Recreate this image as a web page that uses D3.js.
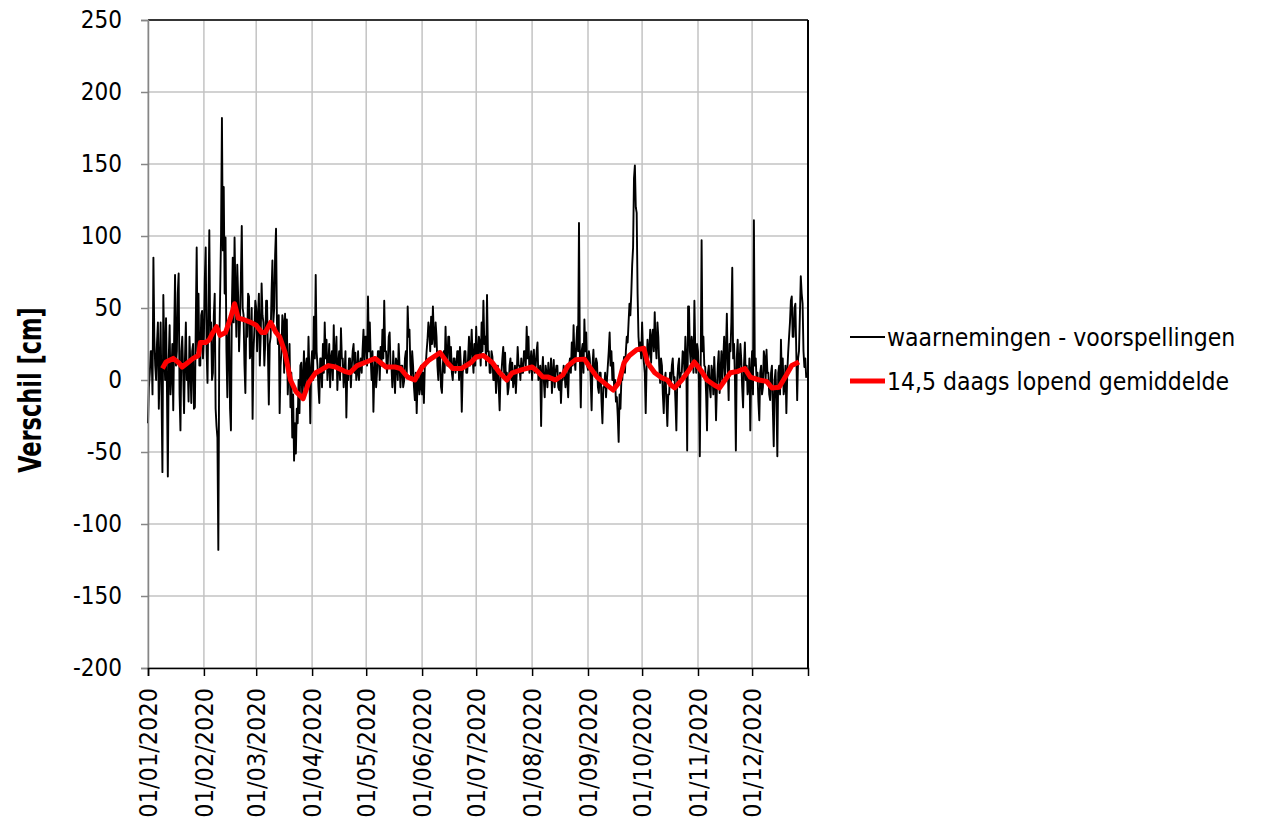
<!DOCTYPE html>
<html>
<head>
<meta charset="utf-8">
<script src="https://cdn.jsdelivr.net/npm/d3@7"></script>
<style>
    body { margin: 0; background: #ffffff; }
    svg { font-family: "DejaVu Sans Condensed", "DejaVu Sans", sans-serif; }
</style>
</head>
<body>
<svg id="chart"></svg>
<script>
// waarnemingen - voorspellingen, two values per day (cm), per month
const verschilJan = [-30, -5, 5, 20, 20, -10, 85, 30, 10, 0, 26, 40, -20, 10, 40, -10, -64, 59, 20, 0, 43, -5, -67, 15, 38, -10, 5, 25, -21, 30, 73, 10, 20, 60, 74, -10, -35, 20, 30, 5, -23, 15, 40, 0, 12, -15, 30, 10, -16, 20, 25, -20, -19, 40, 92, 20, 60, 10, 10, 45, 48, 15];
const verschilFeb = [30, 70, 92, 20, -2, 50, 104, 30, 40, 0, 5, 45, 60, -20, -32, -40, -118, 20, 60, 100, 182, 90, 134, 60, 99, 20, -12, 30, 40, -20, -35, 50, 85, 40, 99, 60, 30, 80, 58, 20, 40, 70, 107, 50, 45, 10, -9, 40, 30, 60, 58, 15, 20, 50, -27, 20, 35, 55];
const verschilMar = [50, 20, 44, 60, 10, 30, 67, 45, 40, 10, 25, 55, 55, 20, -17, 25, 30, 60, 83, 40, 50, 87, 105, 40, 25, 45, -23, 10, 20, 45, 40, 5, 46, 20, 42, -10, 5, 25, -19, 5, -40, -10, -56, -30, -51, -20, -30, 0, -23, 10, 12, -10, 0, 20, -12, 10, 15, -5, 30, 5, -30, 10];
const verschilApr = [20, 0, 44, 15, 73, 20, 10, -5, -16, 15, 15, -5, 25, 5, 40, 15, 28, 0, 10, 25, -5, 15, 20, 0, 38, 10, 15, 30, -7, 10, 20, 0, 36, 15, 15, -5, 5, 20, -26, 5, 0, 15, 15, -5, 9, 20, 25, 5, 19, 0, 5, 20, 0, 10, 15, 5, 21, 35, 12, 30];
const verschilMei = [30, 10, 58, 20, 40, 15, 0, 20, -22, 5, 15, -5, 5, 20, 20, 0, 23, 10, 35, 15, 55, 20, 20, 5, 12, 30, 33, 10, 10, -5, 20, 5, -9, 15, 12, 0, 25, 10, -5, 10, 10, -5, -1, 15, 20, 5, 51, 30, 35, 10, 0, 20, 10, -5, -14, 5, -23, 0, 5, -10, -5, 10];
const verschilJun = [-10, 5, -16, 10, 10, 20, 28, 40, 35, 20, 44, 25, 51, 30, 23, 40, 30, 10, 0, 20, 15, -5, -9, 10, 20, 5, 37, 15, 10, 30, 30, 10, 23, 5, 0, 15, 15, 5, 9, 20, 20, 0, 23, 10, -22, 5, 10, 20, 20, 5, 5, 15, 30, 10, 20, 35, 16, 5, 25, 10];
const verschilJul = [37, 15, 15, 30, 26, 10, 40, 20, 55, 25, 30, 10, 59, 20, 20, 5, 5, 20, 16, 0, 0, 10, -9, 5, 10, -5, -21, 5, 5, 15, 23, 5, 19, 0, 5, -10, -5, 10, 15, 0, 12, -5, 0, 10, -9, 5, 23, 10, 10, 0, 15, 5, 5, 20, 20, 10, 37, 15, 30, 5, 10, 20];
const verschilAug = [0, 15, 21, 5, 10, 20, 26, 0, 5, 10, -32, 5, 16, 0, -12, 10, 5, -5, 12, 0, 0, 15, -9, 5, 14, -5, 5, 10, 10, -5, -7, 5, -16, 0, 0, 10, 5, -5, 10, 0, -12, 10, 15, 5, 26, 10, 38, 15, 7, 25, 37, 20, 109, 15, -19, 20, 25, 5, 42, 20, 33, 10];
const verschilSep = [7, 20, 15, 0, -21, 10, 21, 5, 5, 15, 12, -5, -9, 5, 5, -15, -30, -5, -5, 5, -12, 0, 10, 20, 33, 10, 20, 0, 12, -5, 0, -15, -12, -25, -43, -10, -20, 0, 0, 10, 16, 5, 20, 30, 26, 40, 53, 45, 60, 80, 92, 140, 149, 120, 116, 60, 30, 20, 26, 15];
const verschilOkt = [40, 20, 12, 5, -23, 10, 28, 15, 20, 35, 12, 30, 35, 20, 47, 25, 15, 40, 30, 10, -2, 15, 10, -10, -23, 0, 5, -15, -32, -10, -10, 5, -2, 10, 15, 0, 2, -15, -35, 0, 10, 15, -5, 5, 5, 20, 19, 5, 30, 15, -49, 51, 51, 20, 12, 30, 23, 5, 55, 20, 5, 25];
const verschilNov = [20, 0, -53, 10, 97, 20, 30, 10, 9, -10, -35, 5, 10, -5, -12, 10, 5, -10, 16, 0, -28, -5, 10, 20, -9, 5, 20, 0, 14, 30, 0, 20, 46, 10, -14, 25, 20, 40, 78, 15, 25, 0, -49, 15, 28, 5, 10, 25, 14, -5, -19, 10, 26, 0, 10, -10, -5, 15, -35, 5];
const verschilDec = [20, -10, 111, 10, 15, 0, 5, -15, -28, 5, 10, -10, -5, 20, 15, 0, 21, 5, 5, -10, -14, 5, 10, -20, -46, 0, 7, -15, -53, 5, 10, -10, 28, 0, 15, -10, -5, 10, -23, 5, 19, 30, 40, 55, 58, 30, 30, 50, 53, 20, -14, 15, 20, 45, 72, 60, 53, 20, 9, 15, 2, 5];

// 14,5 daags lopend gemiddelde (day of year, cm)
const gemiddeldeDag = [8, 10, 14, 17, 19, 22, 25, 28, 29, 32, 34, 36, 38, 40, 43, 46, 48, 50, 53, 57, 60, 63, 65, 68, 71, 73, 76, 79, 82, 86, 89, 93, 96, 100, 104, 109, 112, 116, 121, 126, 129, 132, 137, 140, 144, 148, 152, 156, 162, 166, 169, 174, 179, 182, 186, 191, 195, 199, 202, 207, 213, 216, 219, 222, 226, 230, 233, 237, 242, 245, 249, 253, 258, 261, 264, 267, 271, 275, 277, 281, 285, 288, 290, 292, 296, 299, 303, 307, 310, 314, 317, 320, 323, 327, 331, 334, 339, 343, 346, 350, 354, 357, 361];
const gemiddeldeWaarde = [8, 12.5, 15, 12, 9, 12, 15, 17, 26, 26, 28, 33, 37, 31, 33, 44, 53, 43, 42, 40, 38, 33, 33, 40, 33, 30, 19, 0, -8, -13, -2, 5, 7, 10, 9, 6, 5, 10, 12.5, 15, 12, 9, 9, 8, 2, 0, 9, 14, 19, 12, 8, 8, 12, 16, 17, 12, 5, 0, 5, 7, 9, 6, 2, 2, 0, 3.5, 10, 14, 14.5, 9, 2, -2, -7, -2, 12, 17, 21, 22, 12, 5, 1.5, 0, -3.5, -5.5, 0, 5, 12.5, 6, 0, -3.5, -5.5, 0, 5, 6, 8, 2, 0, -1, -5.5, -5, 3.5, 10, 12.5];

// axis ticks and legend labels
const yTicks = [-200, -150, -100, -50, 0, 50, 100, 150, 200, 250];
const monthTicks = [0, 1, 2, 3, 4, 5, 6, 7, 8, 9, 10, 11];
const legendLabels = ["waarnemingen - voorspellingen", "14,5 daags lopend gemiddelde"];

const verschil = [].concat(verschilJan, verschilFeb, verschilMar, verschilApr, verschilMei, verschilJun,
    verschilJul, verschilAug, verschilSep, verschilOkt, verschilNov, verschilDec);
const start = new Date(Date.UTC(2020, 0, 1));
const tideData = verschil.map((v, i) => ({ date: d3.utcHour.offset(start, i * 12), value: v }));
const meanData = gemiddeldeDag.map((d, i) => ({ date: d3.utcDay.offset(start, d), value: gemiddeldeWaarde[i] }));

// svg size and plot area
const svgWidth = 1261;
const svgHeight = 826;
const margin = { top: 20, right: 453, bottom: 158, left: 148 };
const width = svgWidth - margin.left - margin.right;
const height = svgHeight - margin.top - margin.bottom;

const svg = d3.select("#chart")
    .attr("width", svgWidth)
    .attr("height", svgHeight)
    .append("g")
    .attr("transform", `translate(${margin.left}, ${margin.top})`);

// scales
const xScale = d3.scaleUtc()
    .domain([start, new Date(Date.UTC(2021, 0, 1))])
    .range([0, width]);

const yScale = d3.scaleLinear()
    .domain([-200, 250])
    .range([height, 0]);

const monthDates = monthTicks.map(m => new Date(Date.UTC(2020, m, 1)));

// grid lines
svg.append("g")
    .selectAll("line")
    .data(yTicks)
    .join("line")
    .attr("x1", 0)
    .attr("x2", width)
    .attr("y1", d => yScale(d))
    .attr("y2", d => yScale(d))
    .attr("stroke", "#c3c3c3")
    .attr("stroke-width", 1.5);

svg.append("g")
    .selectAll("line")
    .data(monthDates)
    .join("line")
    .attr("x1", d => xScale(d))
    .attr("x2", d => xScale(d))
    .attr("y1", 0)
    .attr("y2", height)
    .attr("stroke", "#c3c3c3")
    .attr("stroke-width", 1.5);

// data lines
const line = d3.line()
    .x(d => xScale(d.date))
    .y(d => yScale(d.value));

svg.append("path")
    .datum(tideData)
    .attr("fill", "none")
    .attr("stroke", "#000000")
    .attr("stroke-width", 1.9)
    .attr("stroke-linejoin", "round")
    .attr("d", line);

svg.append("path")
    .datum(meanData)
    .attr("fill", "none")
    .attr("stroke", "#ff0000")
    .attr("stroke-width", 5)
    .attr("stroke-linejoin", "round")
    .attr("d", line);

// frame: top and right
svg.append("line")
    .attr("x1", 0).attr("x2", width)
    .attr("y1", 0).attr("y2", 0)
    .attr("stroke", "#000000")
    .attr("stroke-width", 1.5);

svg.append("line")
    .attr("x1", width).attr("x2", width)
    .attr("y1", 0).attr("y2", height)
    .attr("stroke", "#000000")
    .attr("stroke-width", 2);

// y axis
const yAxis = d3.axisLeft(yScale)
    .tickValues(yTicks)
    .tickSize(7)
    .tickPadding(19)
    .tickFormat(d => String(d));

const yAxisG = svg.append("g")
    .attr("class", "y axis")
    .call(yAxis);

yAxisG.select(".domain").attr("stroke", "#868686").attr("stroke-width", 1.5);
yAxisG.selectAll(".tick line").attr("stroke", "#868686").attr("stroke-width", 1.5);
yAxisG.selectAll("text")
    .attr("font-size", "24px")
    .attr("fill", "#000000");

// x axis
const xAxis = d3.axisBottom(xScale)
    .tickValues(monthDates)
    .tickSize(8)
    .tickFormat(d3.utcFormat("%d/%m/%Y"));

const xAxisG = svg.append("g")
    .attr("class", "x axis")
    .attr("transform", `translate(0, ${height})`)
    .call(xAxis);

xAxisG.select(".domain").attr("stroke", "#000000").attr("stroke-width", 1.5);
xAxisG.selectAll(".tick line").attr("stroke", "#000000").attr("stroke-width", 1.5);
xAxisG.selectAll("text")
    .attr("font-size", "25px")
    .attr("fill", "#000000")
    .attr("transform", "translate(0, 20) rotate(-90)")
    .attr("y", 0)
    .attr("x", 0)
    .attr("dy", "0.35em")
    .style("text-anchor", "end");

svg.selectAll(".axis").attr("font-family", null);

// y axis title
svg.append("text")
    .attr("transform", `translate(${-margin.left + 30}, ${height / 2 + 46}) rotate(-90) scale(1, 1.25)`)
    .attr("text-anchor", "middle")
    .attr("dy", "0.35em")
    .attr("font-size", "25px")
    .attr("font-weight", "bold")
    .text("Verschil [cm]");

// legend
const legend = svg.append("g")
    .attr("transform", `translate(${width + 42}, ${yScale(0) - 43})`);

const legendStyles = [
    { color: "#000000", size: 1.9 },
    { color: "#ff0000", size: 5 }
];

legendLabels.forEach((label, i) => {
    legend.append("line")
        .attr("x1", 0)
        .attr("x2", 35)
        .attr("y1", i * 44)
        .attr("y2", i * 44)
        .attr("stroke", legendStyles[i].color)
        .attr("stroke-width", legendStyles[i].size);

    legend.append("text")
        .attr("x", 37)
        .attr("y", i * 44)
        .attr("dy", "0.35em")
        .attr("font-size", "24.5px")
        .text(label);
});
</script>
</body>
</html>
